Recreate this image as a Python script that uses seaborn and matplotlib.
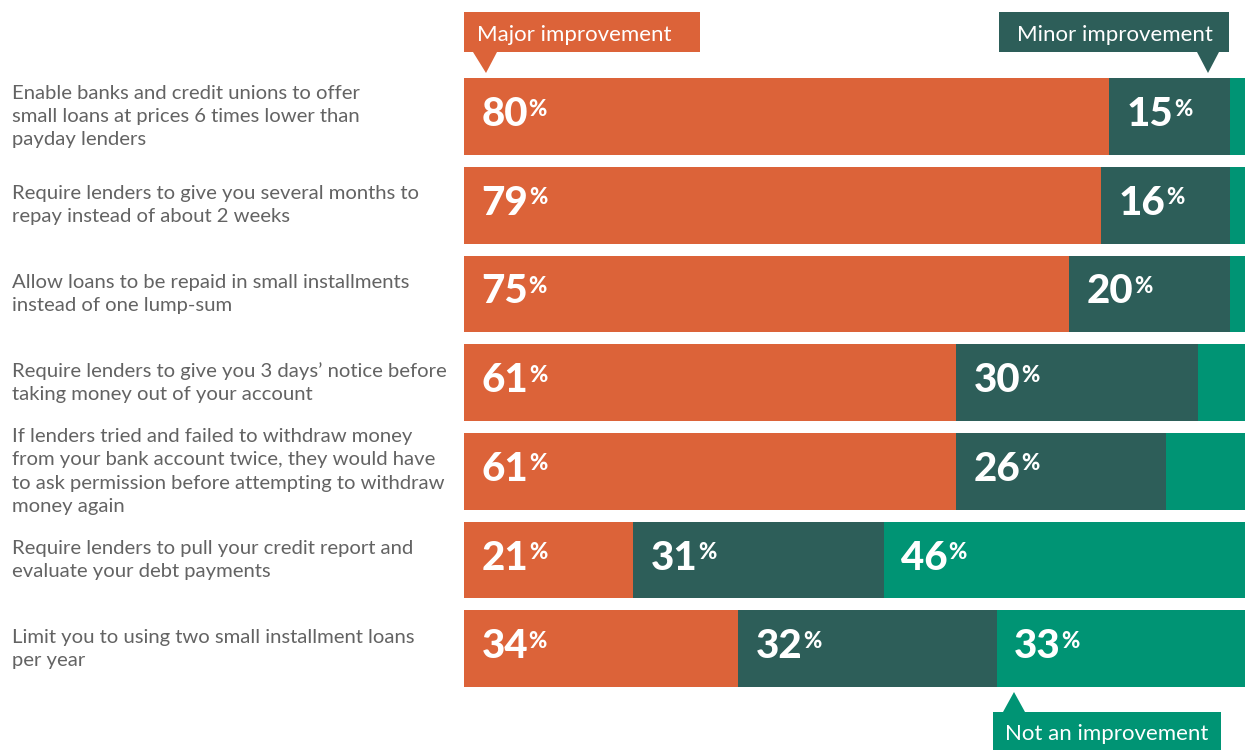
import matplotlib
matplotlib.use("Agg")
import matplotlib.pyplot as plt
import matplotlib.transforms as mtransforms
from matplotlib.patches import Rectangle, Polygon
import pandas as pd
import seaborn as sns

# ----------------------------------------------------------------------
# Data (share of respondents, %)
# ----------------------------------------------------------------------
policies = [
    "Enable banks and credit unions to offer\nsmall loans at prices 6 times lower than\npayday lenders",
    "Require lenders to give you several months to\nrepay instead of about 2 weeks",
    "Allow loans to be repaid in small installments\ninstead of one lump-sum",
    "Require lenders to give you 3 days\u2019 notice before\ntaking money out of your account",
    "If lenders tried and failed to withdraw money\nfrom your bank account twice, they would have\n"
    "to ask permission before attempting to withdraw\nmoney again",
    "Require lenders to pull your credit report and\nevaluate your debt payments",
    "Limit you to using two small installment loans\nper year",
]
major = [80, 79, 75, 61, 61, 21, 34]
minor = [15, 16, 20, 30, 26, 31, 32]
not_improvement = [4, 4, 4, 8, 12, 46, 33]

ORANGE = "#DC6339"
DARK = "#2D5E59"
GREEN = "#009474"
W, H = 1245, 750

sns.set_style("white")
plt.rcParams["font.family"] = ["Lato", "DejaVu Sans"]

df = pd.DataFrame({"policy": policies, "major": major, "minor": minor,
                   "not": not_improvement})
df["c2"] = df["major"] + df["minor"]
df["c3"] = df["c2"] + df["not"]

fig = plt.figure(figsize=(W / 100, H / 100), dpi=100)
ax = fig.add_axes([464 / W, 1 - 693.2 / H, 781 / W, 621 / H])

# stacked bars: draw cumulative totals back to front
for col, color in [("c3", GREEN), ("c2", DARK), ("major", ORANGE)]:
    sns.barplot(data=df, x=col, y="policy", orient="h", color=color,
                width=0.865, saturation=1, errorbar=None, ax=ax,
                linewidth=0, edgecolor="none")

ax.set_xlim(0, 96.8)
ax.set_ylim(6.5, -0.5)
ax.axis("off")

# value labels with superscript percent sign
for i, row in df.iterrows():
    segs = [(0, row["major"]), (row["major"], row["minor"]), (row["c2"], row["not"])]
    for start, val in segs:
        if val < 15:
            continue
        txt = ax.annotate(f"{val}", xy=(start, i), xytext=(12.5, 1.5),
                          textcoords="offset points", ha="left", va="center",
                          fontsize=29, fontweight="black", color="white")
        ax.annotate("%", xy=(1.0, 0.93), xycoords=txt, xytext=(0.5, 0),
                    textcoords="offset points", ha="left", va="top",
                    fontsize=16, fontweight="black", color="white")

# category labels on the left
trans = mtransforms.blended_transform_factory(fig.transFigure, ax.transData)
for i, label in enumerate(policies):
    ax.text(12 / W, i, label, transform=trans, ha="left", va="center",
            fontsize=14.6, color="#636363", linespacing=1.45)


# callout boxes
def box(x0, y0, x1, y1, color):
    fig.add_artist(Rectangle((x0 / W, 1 - y1 / H), (x1 - x0) / W, (y1 - y0) / H,
                             transform=fig.transFigure, color=color, lw=0))


def tri(points, color):
    fig.add_artist(Polygon([(x / W, 1 - y / H) for x, y in points],
                           transform=fig.transFigure, color=color, lw=0))


box(464, 12, 700, 52, ORANGE)
tri([(473, 52), (497, 52), (486, 73)], ORANGE)
fig.text(477 / W, 1 - 41 / H, "Major improvement", ha="left", va="baseline",
         fontsize=16, color="white")

box(999, 12, 1229, 52, DARK)
tri([(1197, 52), (1219, 52), (1208, 73)], DARK)
fig.text(1115 / W, 1 - 41 / H, "Minor improvement", ha="center", va="baseline",
         fontsize=16, color="white")

box(993, 712, 1221, 752, GREEN)
tri([(1003, 712), (1025, 712), (1014, 692)], GREEN)
fig.text(1005 / W, 1 - 740 / H, "Not an improvement", ha="left", va="baseline",
         fontsize=16, color="white")

fig.savefig("out.png", dpi=100)
